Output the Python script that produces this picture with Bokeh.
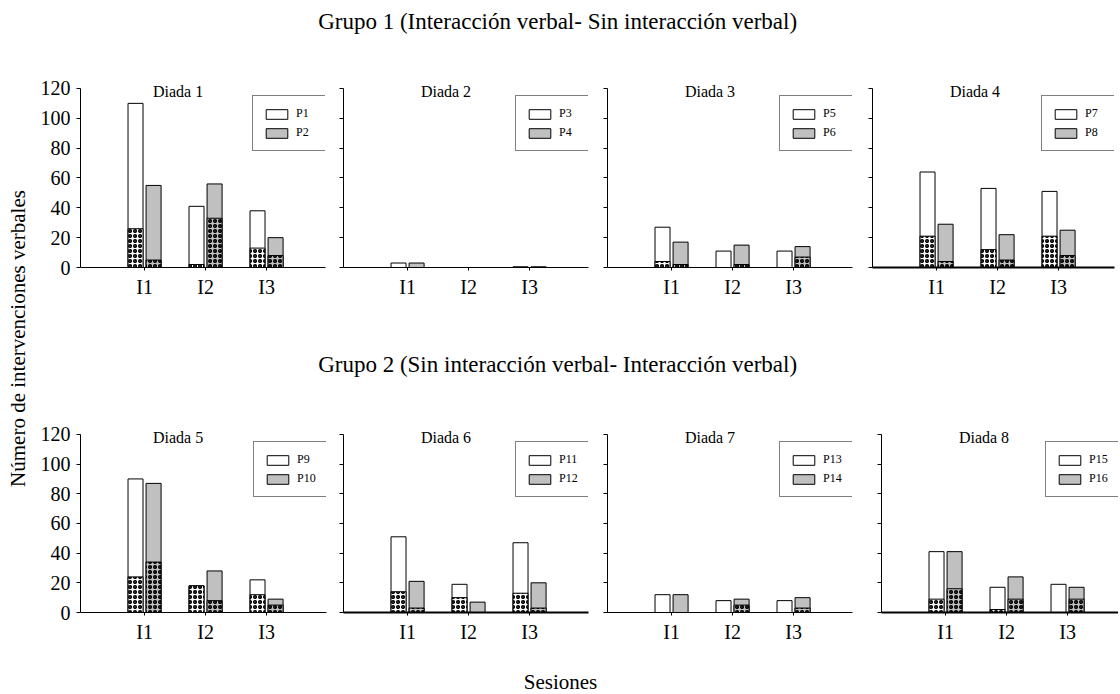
import math
from bokeh.plotting import figure
from bokeh.models import (Range1d, FixedTicker, Label, Legend, LegendItem,
                          CustomJSTickFormatter, ColumnDataSource)
from bokeh.layouts import row, column
from bokeh.embed import file_html
from bokeh.resources import INLINE

# ---------------- data ----------------
sessions = ["I1", "I2", "I3"]
dyads = ["Diada 1", "Diada 2", "Diada 3", "Diada 4",
         "Diada 5", "Diada 6", "Diada 7", "Diada 8"]
participants = ["P1", "P2", "P3", "P4", "P5", "P6", "P7", "P8",
                "P9", "P10", "P11", "P12", "P13", "P14", "P15", "P16"]
group_titles = ["Grupo 1  (Interacción verbal- Sin interacción verbal)",
                "Grupo 2  (Sin interacción verbal- Interacción verbal)"]
y_title = "Número de intervenciones verbales"
x_title = "Sesiones"
y_ticks = [0, 20, 40, 60, 80, 100, 120]

# first participant of each dyad (white bars): total and dotted part
first_total = [
    [110, 41, 38],
    [3, 0, 0.5],
    [27, 11, 11],
    [64, 53, 51],
    [90, 18, 22],
    [51, 19, 47],
    [12, 8, 8],
    [41, 17, 19],
]
first_dotted = [
    [26, 2, 13],
    [0, 0, 0],
    [4, 0, 0],
    [21, 12, 21],
    [24, 18, 12],
    [14, 10, 13],
    [0, 0, 0],
    [9, 2, 0],
]
# second participant of each dyad (grey bars)
second_total = [
    [55, 56, 20],
    [3, 0, 0.5],
    [17, 15, 14],
    [29, 22, 25],
    [87, 28, 9],
    [21, 7, 20],
    [12, 9, 10],
    [41, 24, 17],
]
second_dotted = [
    [5, 33, 8],
    [0, 0, 0],
    [2, 2, 7],
    [4, 5, 8],
    [34, 8, 5],
    [3, 0, 3],
    [0, 5, 3],
    [16, 9, 9],
]

# ---------------- style ----------------
FONT = "Liberation Serif"
PX = 61.0          # pixels per session unit
X0 = -0.05
BW = 0.246
OFF = 0.148
GREY = "#c0c0c0"
Y_TOP = 126        # range end (axis line stops at 120)

# (left border, frame left, frame right, right border) in page px
geom = [
    (48, 80, 325, 10), (8, 343, 588, 11), (8, 607, 852, 12), (8, 872, 1114, 4),
    (48, 80, 326, 9), (8, 343, 588, 11), (8, 607, 852, 21), (8, 881, 1118, 0),
]
thick = [False, False, False, True, False, True, False, True]
title_x = [1.55, 1.63, 1.63, 1.63]


def hatch_kwargs():
    return dict(hatch_pattern="ring", hatch_color="black", hatch_scale=5,
                hatch_weight=1.6)


def panel(i):
    lb, fl, fr, rb = geom[i]
    fw = fr - fl
    h120 = 179 if i < 4 else 178          # pixels for 0..120
    fh = round(h120 * Y_TOP / 120.0)
    extra = fh - h120
    p = figure(width=lb + fw + rb, height=(20 - extra) + fh + 40,
               x_range=Range1d(X0, X0 + fw / PX), y_range=Range1d(0, Y_TOP),
               min_border_left=lb, min_border_right=rb,
               min_border_top=20 - extra, min_border_bottom=40,
               output_backend="svg", toolbar_location=None)
    p.grid.visible = False
    p.outline_line_color = None
    p.background_fill_color = "white"

    xs = [k + 1 for k in range(len(sessions))]
    src_a = ColumnDataSource(dict(x=[x - OFF for x in xs], top=first_total[i]))
    src_b = ColumnDataSource(dict(x=[x + OFF for x in xs], top=second_total[i]))
    ra = p.vbar(x="x", top="top", bottom=0, width=BW, source=src_a,
                fill_color="white", line_color="black", line_width=1)
    rb_ = p.vbar(x="x", top="top", bottom=0, width=BW, source=src_b,
                 fill_color=GREY, line_color="black", line_width=1)

    da = [(x - OFF, v) for x, v in zip(xs, first_dotted[i]) if v > 0]
    db = [(x + OFF, v) for x, v in zip(xs, second_dotted[i]) if v > 0]
    if da:
        p.vbar(x=[d[0] for d in da], top=[d[1] for d in da], bottom=0, width=BW,
               fill_color="white", line_color="black", line_width=1, **hatch_kwargs())
    if db:
        p.vbar(x=[d[0] for d in db], top=[d[1] for d in db], bottom=0, width=BW,
               fill_color=GREY, line_color="black", line_width=1, **hatch_kwargs())

    # axes
    p.xaxis.ticker = FixedTicker(ticks=xs)
    p.xaxis.major_label_overrides = {x: s for x, s in zip(xs, sessions)}
    p.xaxis.minor_tick_line_color = None
    p.xaxis.major_tick_out = 3
    p.xaxis.major_tick_in = 0
    p.xaxis.axis_line_color = "black"
    p.xaxis.major_tick_line_color = "black"
    p.xaxis.axis_line_width = 2.2 if thick[i] else 1
    p.xaxis.major_label_text_font = FONT
    p.xaxis.major_label_text_font_size = "20px"
    p.xaxis.major_label_text_color = "black"
    p.xaxis.major_label_standoff = 5

    p.yaxis.ticker = FixedTicker(ticks=y_ticks)
    p.yaxis.bounds = (0, 120)
    p.yaxis.minor_tick_line_color = None
    p.yaxis.major_tick_out = 4
    p.yaxis.major_tick_in = 0
    p.yaxis.axis_line_color = "black"
    p.yaxis.major_tick_line_color = "black"
    p.yaxis.major_label_text_font = FONT
    p.yaxis.major_label_text_font_size = "20px"
    p.yaxis.major_label_text_color = "black"
    if i % 4 == 0:
        p.yaxis.major_label_standoff = 6
    else:
        p.yaxis.formatter = CustomJSTickFormatter(code="return ''")
        p.yaxis.major_label_standoff = 0

    # dyad title
    p.add_layout(Label(x=title_x[i % 4], y=118, text=dyads[i],
                       text_align="center", text_baseline="middle",
                       text_font=FONT, text_font_size="16px",
                       text_color="black"))

    # legend (top edge 9 px below the 120 level)
    lw, lh = 73, 54
    legend = Legend(items=[LegendItem(label=participants[2 * i], renderers=[ra]),
                           LegendItem(label=participants[2 * i + 1], renderers=[rb_])],
                    location=(fw - lw, h120 - 9 - lh), padding=10, spacing=4,
                    glyph_width=27, glyph_height=12, label_height=12,
                    label_width=20, label_standoff=6, margin=0,
                    label_text_font=FONT, label_text_font_size="12px",
                    label_text_color="black",
                    border_line_color="black", border_line_width=1,
                    background_fill_color="white", background_fill_alpha=1)
    p.add_layout(legend)
    return p


def text_fig(w, h, txt, x, y, size, angle=0.0):
    f = figure(width=w, height=h, x_range=Range1d(0, 1), y_range=Range1d(0, 1),
               x_axis_type=None, y_axis_type=None, min_border=0,
               output_backend="svg", toolbar_location=None)
    f.grid.visible = False
    f.outline_line_color = None
    f.add_layout(Label(x=x, y=y, x_units="screen", y_units="screen", text=txt,
                       angle=angle, text_align="center", text_baseline="middle",
                       text_font=FONT, text_font_size=size, text_color="black"))
    return f


panels = [panel(i) for i in range(8)]

top = text_fig(1086, 68, group_titles[0], 528, 47, "23px")
mid = text_fig(1086, 107, group_titles[1], 528, 50, "23px")
bottom = text_fig(1086, 40, x_title, 528, 11, "21px")
ylab = text_fig(32, 692, y_title, 17, 692 - 338, "21px", angle=math.pi / 2)

layout = row(ylab, column(top, row(*panels[:4]), mid, row(*panels[4:]), bottom))

open("out.html", "w").write(file_html(layout, INLINE))
